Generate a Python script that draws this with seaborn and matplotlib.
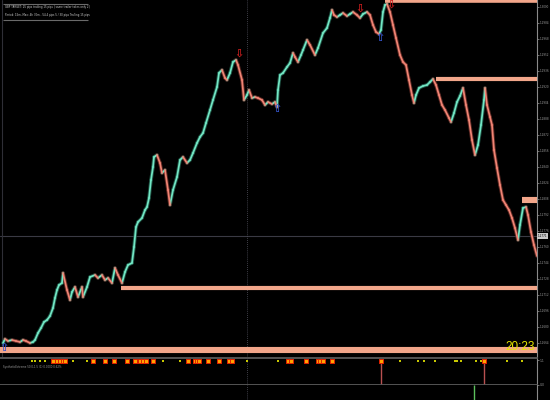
import numpy as np
import pandas as pd
import matplotlib
matplotlib.use("Agg")
import matplotlib.pyplot as plt
import matplotlib.transforms as mtrans
import seaborn as sns

# ---------------- data ----------------
bar_time = [3, 5, 8, 12, 16, 20, 23, 26, 30, 33, 35, 38, 41, 44, 47, 50, 53, 55, 57, 59,
            62, 63, 67, 70, 72, 75, 78, 82, 83, 87, 90, 95, 98, 102, 105, 108, 112, 115, 118, 122,
            125, 128, 132, 134, 136, 138, 142, 145, 147, 149, 151, 153, 154, 157, 160, 162, 165, 168, 170, 173,
            177, 180, 183, 187, 190, 193, 197, 200, 203, 206, 210, 213, 217, 219, 222, 225, 227, 230, 233, 236,
            238, 242, 244, 247, 249, 252, 255, 258, 262, 265, 268, 272, 275, 277, 278, 280, 283, 287, 290, 293,
            295, 298, 301, 303, 307, 310, 315, 318, 323, 327, 330, 332, 334, 337, 340, 343, 347, 350, 353, 357,
            360, 363, 367, 370, 373, 376, 379, 381, 383, 385, 387, 390, 393, 396, 400, 403, 406, 409, 412, 414,
            416, 419, 423, 427, 430, 433, 436, 439, 442, 445, 449, 451, 454, 457, 460, 463, 466, 469, 472, 475,
            478, 481, 484, 485, 487, 490, 492, 494, 497, 500, 503, 506, 509, 512, 515, 518, 520, 523, 526, 528,
            531, 534, 537]
close_price = [1.2664, 1.2668, 1.2666, 1.2667, 1.2666, 1.2665, 1.2667, 1.2666, 1.2664, 1.2665,
               1.2667, 1.2674, 1.2679, 1.2685, 1.2687, 1.2691, 1.2699, 1.2709, 1.2717, 1.2722,
               1.2724, 1.2734, 1.2717, 1.2707, 1.2715, 1.2720, 1.2710, 1.2720, 1.2710, 1.2720,
               1.2730, 1.2732, 1.2729, 1.2732, 1.2727, 1.2729, 1.2724, 1.2739, 1.2732, 1.2724,
               1.2735, 1.2742, 1.2744, 1.2760, 1.2780, 1.2785, 1.2789, 1.2797, 1.2800, 1.2809,
               1.2827, 1.2840, 1.2850, 1.2852, 1.2844, 1.2834, 1.2837, 1.2817, 1.2802, 1.2817,
               1.2830, 1.2847, 1.2850, 1.2844, 1.2847, 1.2854, 1.2864, 1.2870, 1.2874, 1.2884,
               1.2897, 1.2907, 1.2920, 1.2934, 1.2937, 1.2929, 1.2927, 1.2934, 1.2945, 1.2947,
               1.2942, 1.2927, 1.2907, 1.2912, 1.2917, 1.2909, 1.2910, 1.2909, 1.2907, 1.2902,
               1.2905, 1.2903, 1.2905, 1.2900, 1.2917, 1.2932, 1.2934, 1.2940, 1.2944, 1.2954,
               1.2950, 1.2945, 1.2952, 1.2957, 1.2967, 1.2962, 1.2952, 1.2959, 1.2974, 1.2979,
               1.2989, 1.2997, 1.2992, 1.2990, 1.2992, 1.2994, 1.2991, 1.2993, 1.2995, 1.2992,
               1.2989, 1.2993, 1.2995, 1.2992, 1.2982, 1.2975, 1.2973, 1.2977, 1.2995, 1.3002,
               1.3003, 1.2995, 1.2982, 1.2969, 1.2952, 1.2945, 1.2942, 1.2927, 1.2912, 1.2904,
               1.2912, 1.2919, 1.2921, 1.2922, 1.2925, 1.2928, 1.2922, 1.2912, 1.2902, 1.2897,
               1.2889, 1.2885, 1.2894, 1.2905, 1.2911, 1.2919, 1.2902, 1.2887, 1.2867, 1.2852,
               1.2862, 1.2882, 1.2907, 1.2919, 1.2902, 1.2890, 1.2882, 1.2857, 1.2839, 1.2822,
               1.2807, 1.2802, 1.2797, 1.2789, 1.2779, 1.2767, 1.2782, 1.2799, 1.2800, 1.2792,
               1.2775, 1.2762, 1.2751]

# horizontal target levels: (price, start time, line width)
level_price = [1.30055, 1.2928, 1.2807, 1.2719, 1.2657]
level_start = [385, 436, 522, 121, 0]
level_width = [2.6, 3.0, 4.4, 3.0, 4.4]

current_price = 1.2771
cursor_time = 247

sell_arrow_time = [239, 360, 391]
sell_arrow_price = [1.2953, 1.2998, 1.3002]
buy_arrow_time = [4, 277, 380]
buy_arrow_price = [1.2659, 1.2898, 1.2969]

# indicator signals
weak_time = [32, 35, 40, 45, 73, 87, 163, 180, 247, 278, 400, 418, 424, 435, 455, 457,
             461, 476, 481, 507, 522]
strong_time = [53, 57, 60, 63, 65, 93, 105, 114, 127, 135, 140, 143, 146, 153, 188, 195,
               197, 199, 208, 219, 229, 232, 288, 291, 306, 318, 320, 323, 332, 381, 484]
spike_down_time = [381, 484]
spike_up_time = [474]

price_ticks = [1.3000 - 0.0016 * k for k in range(22)]
clock_text = "20:23"
info_lines = ["GBP TARGET: 25 pips trailing 15 pips | same trailer takes only 2 | ",
              "Period: 15m, Max: 4h 30m - 54.4 pips 5 / 30 pips Trailing 15 pips"]
ind_label = "SyntheticExtreme 50,0,1.5 (1) 0.0000 0.62%"

# ---------------- styling ----------------
sns.set_style("dark")
plt.rcParams.update({
    "figure.facecolor": "black", "axes.facecolor": "black", "savefig.facecolor": "black",
    "axes.grid": False, "font.family": ["DejaVu Sans"],
})
UP = "#72E6C4"
DOWN = "#F08474"
LEVEL = "#F2A68A"
GRID = "#3a3a44"
SEP = "#5a5a5a"

fig = plt.figure(figsize=(5.5, 4.0), dpi=100)
W = 537 / 550
ax = fig.add_axes([0, 43 / 400, W, 357 / 400])
ax1 = fig.add_axes([0, 15 / 400, W, 27 / 400])
ax2 = fig.add_axes([0, 0, W, 15 / 400])

# ---------------- main price panel ----------------
rows = []
for i in range(len(bar_time) - 1):
    d = "up" if close_price[i + 1] >= close_price[i] else "down"
    rows.append((i, bar_time[i], close_price[i], d))
    rows.append((i, bar_time[i + 1], close_price[i + 1], d))
seg = pd.DataFrame(rows, columns=["seg", "t", "p", "dir"])

sns.lineplot(data=seg, x="t", y="p", units="seg", hue="dir", estimator=None,
             palette={"up": "#24604f", "down": "#6e302a"}, legend=False,
             linewidth=2.6, ax=ax, sort=False, alpha=0.8)
sns.lineplot(data=seg, x="t", y="p", units="seg", hue="dir", estimator=None,
             palette={"up": UP, "down": DOWN}, legend=False,
             linewidth=1.25, ax=ax, sort=False)

for p, s, w in zip(level_price, level_start, level_width):
    ax.hlines(p, s, 537, color=LEVEL, linewidth=w, zorder=3)

ax.axhline(current_price, color=GRID, linewidth=0.8, zorder=1)
ax.axvline(cursor_time, color="#555560", linewidth=0.6, linestyle=(0, (1, 1.5)), zorder=1)
ax.axvline(2, color="#2e2e36", linewidth=0.8, zorder=1)

for t, p in zip(sell_arrow_time, sell_arrow_price):
    ax.text(t, p, "\u21e9", color="#c81e1e", fontsize=8, fontweight="bold",
            ha="center", va="center", zorder=4)
for t, p in zip(buy_arrow_time, buy_arrow_price):
    ax.text(t, p, "\u21e7", color="#3555cc", fontsize=8, fontweight="bold",
            ha="center", va="center", zorder=4)

ax.text(535, 1.26535, clock_text, color="#E6E600", fontsize=8.5, ha="right", va="bottom",
        family=["Liberation Sans Narrow", "Liberation Sans", "DejaVu Sans"], zorder=5)

# info box
ax.hlines([1.3003, 1.2987], 3, 88, color="#6a6a6a", linewidth=0.8)
ax.text(5, 1.29995, info_lines[0], color="#d0d0d0", fontsize=1.9, va="center")
ax.text(5, 1.29915, info_lines[1], color="#d0d0d0", fontsize=1.9, va="center")

ax.set_xlim(0, 537)
ax.set_ylim(1.2650, 1.3007)
ax.set_xticks([])
ax.yaxis.tick_right()
ax.set_yticks(price_ticks)
ax.set_yticklabels([f"{v:.4f}" for v in price_ticks])
ax.tick_params(axis="y", colors="#9a9a9a", labelsize=2.0, length=1.2, width=0.5, pad=0.8)
ax.set_xlabel("")
ax.set_ylabel("")
for k in ["top", "left", "bottom"]:
    ax.spines[k].set_visible(False)
ax.spines["right"].set_color("#8a8a8a")
ax.spines["right"].set_linewidth(0.8)

tr = mtrans.blended_transform_factory(ax.transAxes, ax.transData)
ax.text(1.002, current_price, f"{current_price:.4f}", transform=tr, fontsize=2.0,
        color="black", va="center", ha="left",
        bbox=dict(boxstyle="square,pad=0.25", fc="#c8c8c8", ec="none"))

# ---------------- indicator panel ----------------
sig = pd.DataFrame({
    "t": weak_time + strong_time,
    "v": [1.05] * (len(weak_time) + len(strong_time)),
    "kind": ["weak"] * len(weak_time) + ["strong"] * len(strong_time),
})
ax1.vlines(spike_down_time, 0, 1.05, color="#b85050", linewidth=1.0, zorder=1)
ax1.axvline(cursor_time, color="#555560", linewidth=0.6, linestyle=(0, (1, 1.5)), zorder=1)
sns.scatterplot(data=sig[sig.kind == "weak"], x="t", y="v", color="#c8c800", s=4,
                linewidth=0, marker="s", ax=ax1, zorder=3)
sns.scatterplot(data=sig[sig.kind == "strong"], x="t", y="v", color="#ffa200", s=10,
                edgecolor="#e02000", linewidth=0.7, marker="s", ax=ax1, zorder=3)
ax1.text(3, 0.8, ind_label, color="#9a9a9a", fontsize=1.9, va="center")
ax1.set_xlim(0, 537)
ax1.set_ylim(0, 1.2)
ax1.set_xticks([])
ax1.yaxis.tick_right()
ax1.set_yticks([1.1, 0.0])
ax1.set_yticklabels(["1.1", "0.0"])
ax1.tick_params(axis="y", colors="#9a9a9a", labelsize=2.2, length=1.2, width=0.5, pad=0.8)
ax1.set_xlabel("")
ax1.set_ylabel("")
ax1.spines["left"].set_visible(False)
for k in ["top", "bottom"]:
    ax1.spines[k].set_color(SEP)
    ax1.spines[k].set_linewidth(1.3)
ax1.spines["right"].set_color("#8a8a8a")
ax1.spines["right"].set_linewidth(0.8)

# ---------------- lower panel ----------------
ax2.vlines(spike_up_time, 0, 1, color="#5cc05c", linewidth=1.0)
ax2.axvline(cursor_time, color="#555560", linewidth=0.6, linestyle=(0, (1, 1.5)))
ax2.set_xlim(0, 537)
ax2.set_ylim(0, 1)
ax2.set_xticks([])
ax2.set_yticks([])
for k in ["top", "left", "bottom"]:
    ax2.spines[k].set_visible(False)
ax2.spines["right"].set_color("#8a8a8a")
ax2.spines["right"].set_linewidth(0.8)

fig.savefig("out.png", dpi=100, facecolor="black")
